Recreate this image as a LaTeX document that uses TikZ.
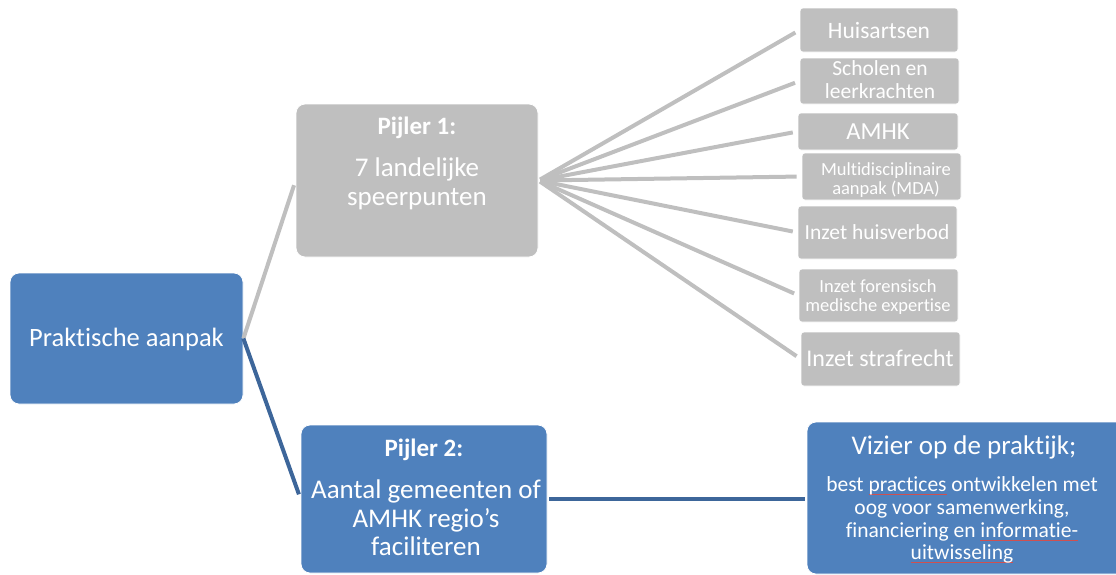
\documentclass[tikz,border=0pt]{standalone}
\usepackage{fontspec}
\setmainfont[Ligatures=NoCommon]{Carlito}
\definecolor{blueF}{HTML}{4F81BD}
\definecolor{blueL}{HTML}{3D669A}
\definecolor{grayF}{HTML}{BFBFBF}
\definecolor{spellred}{HTML}{D05050}
\newlength\spellwd
\newcommand\spellmark[1]{\settowidth{\spellwd}{#1}\leavevmode\rlap{\color{spellred}\rule[-3.5pt]{\spellwd}{0.6pt}}#1}
\newcommand\fs[1]{\fontsize{#1}{#1}\selectfont}
\begin{document}
\begin{tikzpicture}[x=1pt,y=-1pt,
  bigbox/.style={rounded corners=9pt, inner sep=0pt, draw=white, line width=0.8pt},
  bluebox/.style={bigbox, fill=blueF},
  graybox/.style={bigbox, fill=grayF},
  itembox/.style={rounded corners=3pt, fill=grayF, draw=white, line width=0.6pt, inner sep=0pt},
  ln/.style={text=white, inner sep=0pt, anchor=base},
  gline/.style={draw=grayF, line width=4pt},
  bline/.style={draw=blueL, line width=4pt}]
\useasboundingbox (0,0) rectangle (1116,574);

% main boxes
\node[bluebox, minimum width=233pt, minimum height=131pt] (prak) at (126.5,338.5) {};
\node[graybox, minimum width=242pt, minimum height=153pt] (p1) at (417,180.5) {};
\node[bluebox, minimum width=246pt, minimum height=148pt] (p2) at (424,499) {};
\node[bluebox, minimum width=318pt, minimum height=152pt] (viz) at (966,498) {};

% item boxes
\node[itembox, minimum width=158pt, minimum height=44pt] (i1) at (879,30) {};
\node[itembox, minimum width=159pt, minimum height=46pt] (i2) at (879.5,81) {};
\node[itembox, minimum width=160pt, minimum height=37pt] (i3) at (878,131.5) {};
\node[itembox, minimum width=159pt, minimum height=47pt] (i4) at (881.5,176.5) {};
\node[itembox, minimum width=159pt, minimum height=53pt] (i5) at (877.5,232.5) {};
\node[itembox, minimum width=159pt, minimum height=53pt] (i6) at (878.5,295.5) {};
\node[itembox, minimum width=159pt, minimum height=54pt] (i7) at (880.5,359) {};

% texts
\node[ln, font=\fs{26.5}] (t0) at (126.5,346) {Praktische aanpak};

\node[ln, font=\fs{25}\bfseries] (t1a) at (417,134) {Pijler 1:};
\node[ln, font=\fs{27}] (t1b) at (417,176) {7 landelijke};
\node[ln, font=\fs{27}] (t1c) at (417,205) {speerpunten};

\node[ln, font=\fs{25}\bfseries] (t2a) at (424,456) {Pijler 2:};
\node[ln, font=\fs{27}] (t2b) at (426,498) {Aantal gemeenten of};
\node[ln, font=\fs{27}] (t2c) at (426,527) {AMHK regio’s};
\node[ln, font=\fs{27}] (t2d) at (426,555) {faciliteren};

\node[ln, font=\fs{27}] (t3a) at (964,454) {Vizier op de praktijk;};
\node[ln, font=\fs{21.5}] (t3b) at (962,491) {best \spellmark{practices} ontwikkelen met};
\node[ln, font=\fs{21.5}] (t3c) at (962,514) {oog voor samenwerking,};
\node[ln, font=\fs{21.5}] (t3d) at (962,537) {financiering en \spellmark{informatie-}};
\node[ln, font=\fs{21.5}] (t3e) at (962,559) {\spellmark{uitwisseling}};

\node[ln, font=\fs{23.5}] (ti1) at (879,38) {Huisartsen};
\node[ln, font=\fs{21.5}] (ti2a) at (880,75) {Scholen en};
\node[ln, font=\fs{21.5}] (ti2b) at (880,98) {leerkrachten};
\node[ln, font=\fs{24.5}] (ti3) at (878,139) {AMHK};
\node[ln, font=\fs{18.5}] (ti4a) at (886,175) {Multidisciplinaire};
\node[ln, font=\fs{18.5}] (ti4b) at (886,194) {aanpak (MDA)};
\node[ln, font=\fs{21.5}] (ti5) at (877,239) {Inzet huisverbod};
\node[ln, font=\fs{18.5}] (ti6a) at (878,292) {Inzet forensisch};
\node[ln, font=\fs{18.5}] (ti6b) at (878,311) {medische expertise};
\node[ln, font=\fs{24}] (ti7) at (880,366) {Inzet strafrecht};

% connectors
\draw[gline, shorten >=5pt] (prak.east) -- (p1.west);
\draw[bline, shorten >=5pt] (prak.east) -- (p2.west);
\draw[bline, shorten >=2pt, shorten <=2pt] (p2.east) -- (p2.east -| viz.west);
\foreach \i in {1,...,7}{
  \draw[gline, shorten >=5pt, shorten <=2pt] (p1.east) -- (i\i.west);
}
\end{tikzpicture}
\end{document}
